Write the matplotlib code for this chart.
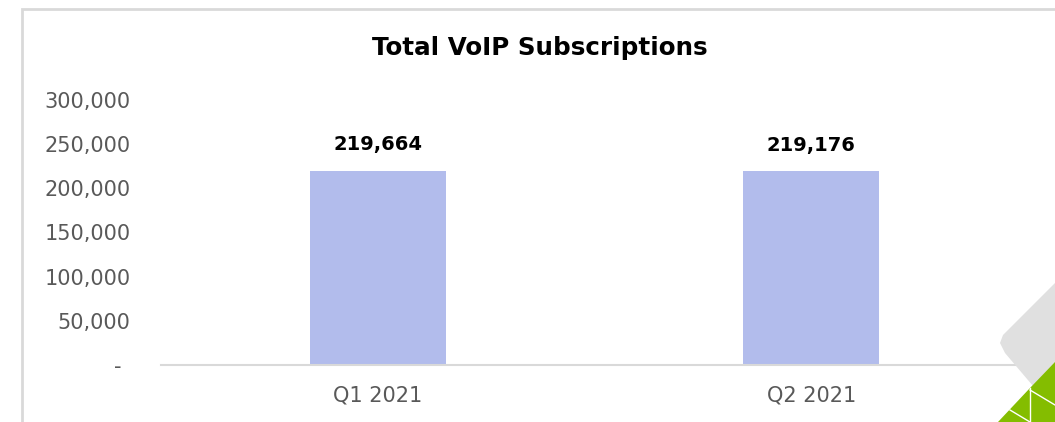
import matplotlib.pyplot as plt
from matplotlib.patches import Polygon, Rectangle
from matplotlib.transforms import ScaledTranslation

quarters = ['Q1 2021', 'Q2 2021']
subscriptions = [219664, 219176]
y_ticks = [0, 50000, 100000, 150000, 200000, 250000, 300000]
y_tick_labels = ['-', '50,000', '100,000', '150,000', '200,000', '250,000', '300,000']

W, H = 1055, 422
fig = plt.figure(figsize=(W / 100, H / 100), dpi=100)
fig.patch.set_facecolor('white')

# chart frame (runs off the right and bottom edge)
fig.patches.append(Rectangle((22 / W, -0.1), 1.2, 1 - 9 / H + 0.1, transform=fig.transFigure,
                             fill=False, edgecolor='#d9d9d9', linewidth=2))

ax = fig.add_axes([161 / W, 1 - 365 / H, (1028 - 161) / W, (365 - 100) / H])
x = range(len(quarters))
ax.bar(x, subscriptions, width=0.314, color='#b2bcec')
ax.set_xlim(-0.5, len(quarters) - 0.5)
ax.set_ylim(0, 300000)
ax.set_yticks(y_ticks)
ax.set_yticklabels(y_tick_labels)
ax.set_xticks(list(x))
ax.set_xticklabels(quarters)
ax.tick_params(axis='both', length=0, labelsize=15, labelcolor='#595959')
ax.tick_params(axis='y', pad=22)
ax.tick_params(axis='x', pad=15)
for lbl in ax.get_yticklabels():
    lbl.set_horizontalalignment('right')
# accounting style dash sits a bit left of the numbers
dash = ax.get_yticklabels()[0]
dash.set_transform(dash.get_transform() + ScaledTranslation(-0.09, 0, fig.dpi_scale_trans))
for s in ['top', 'right', 'left']:
    ax.spines[s].set_visible(False)
ax.spines['bottom'].set_color('#d9d9d9')
ax.spines['bottom'].set_linewidth(1.5)

for xi, v in zip(x, subscriptions):
    ax.annotate(f'{v:,}', (xi, v), xytext=(0, 12), textcoords='offset points',
                ha='center', va='bottom', fontsize=14, fontweight='bold', color='black')

fig.text(540 / W, 1 - 48 / H, 'Total VoIP Subscriptions', ha='center', va='center',
         fontsize=17.7, fontweight='bold', color='black')

# corner decoration
def fpts(pts):
    return [(px / W, 1 - py / H) for px, py in pts]

fig.patches.append(Polygon(fpts([(1000, 343), (1003, 335), (1055, 283), (1055, 363), (1033, 386), (1005, 353)]),
                           closed=True, transform=fig.transFigure, facecolor='#e0e0e0', edgecolor='none'))
fig.patches.append(Polygon(fpts([(998, 422), (1030, 388), (1055, 362), (1055, 422)]),
                           closed=True, transform=fig.transFigure, facecolor='#84bd00', edgecolor='none'))
for seg in [[(1030, 388), (1030, 422)], [(1030, 390), (1055, 405)], [(1010, 410), (1030, 422)]]:
    p = fpts(seg)
    fig.add_artist(plt.Line2D([p[0][0], p[1][0]], [p[0][1], p[1][1]], transform=fig.transFigure,
                              color='white', linewidth=1))

fig.savefig('out.png', dpi=100, facecolor='white')
